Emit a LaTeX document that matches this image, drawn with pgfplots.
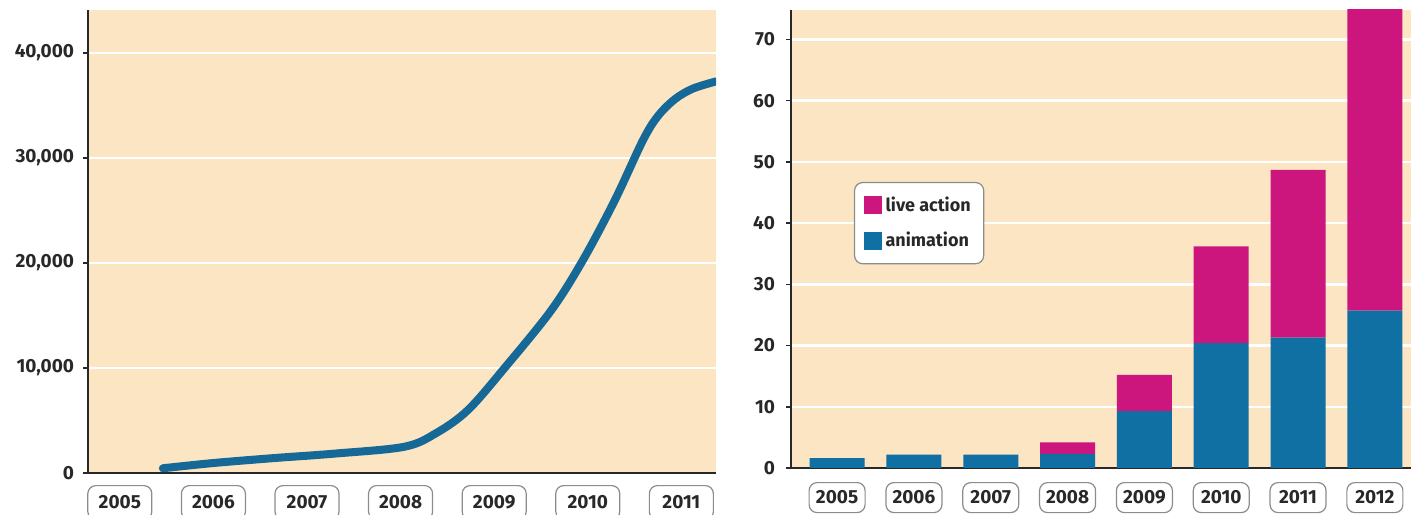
\documentclass[border=0pt]{standalone}
\usepackage{fontspec}
\setmainfont{Fira Sans}
\usepackage{pgfplots}
\pgfplotsset{compat=1.18}
\definecolor{bg}{RGB}{251,229,195}
\definecolor{lineblue}{RGB}{22,104,150}
\definecolor{barblue}{RGB}{16,112,163}
\definecolor{mag}{RGB}{204,22,126}
\definecolor{txt}{RGB}{40,40,40}
\definecolor{boxgray}{RGB}{140,140,140}
\pgfplotsset{
  common/.style={
    scale only axis,
    axis background/.style={fill=bg},
    axis x line*=bottom, axis y line*=left,
    axis line style={txt, line width=1bp, -},
    ymajorgrids, major grid style={white, line width=1.2bp},
    tick align=outside,
    major tick length=2.5bp,
    ytick style={txt, line width=0.8bp},
    xtick style={draw=none},
    tick label style={font=\bfseries\fontsize{9.5bp}{11bp}\selectfont, text=txt},
    /pgf/number format/assume math mode=true,
    xticklabel style={draw=boxgray, line width=0.6bp, fill=white, rounded corners=4bp, inner sep=0pt, anchor=north},
  },
  sq legend/.style={legend image code/.code={\fill[##1, sharp corners] (0bp,-4.5bp) rectangle (9bp,4.5bp);}},
}
\begin{document}
\begin{tikzpicture}
\useasboundingbox (0,0) rectangle (709.5bp,257.5bp);
\begin{axis}[common,
  at={(44bp,21bp)}, anchor=south west, width=314bp, height=231.5bp,
  xmin=2004.66, xmax=2011.37, ymin=0, ymax=44100,
  xtick={2005,2006,2007,2008,2009,2010,2011},
  xticklabels={2005,2006,2007,2008,2009,2010,2011},
  ytick={0,10000,20000,30000,40000},
  scaled y ticks=false,
  yticklabel style={/pgf/number format/1000 sep={,}, xshift=-1bp},
  xticklabel style={minimum width=32bp, minimum height=17bp, yshift=-3.5bp},
]
\addplot[lineblue, line width=4bp, smooth, tension=0.55, line cap=round] coordinates {
(2005.46,450) (2006.0,950) (2006.66,1430) (2007.3,1850) (2008.04,2500) (2008.38,3800)
(2008.72,6000) (2009.12,10100) (2009.61,15500) (2009.95,20300) (2010.29,26000)
(2010.59,31700) (2010.75,34000) (2010.93,35600) (2011.12,36600) (2011.37,37300)};
\end{axis}
\begin{axis}[common,
  at={(395.5bp,23.5bp)}, anchor=south west, width=310bp, height=229bp,
  ybar stacked, bar width=27.5bp,
  xmin=-0.6, xmax=7.47, ymin=0, ymax=74.8,
  xtick={0,1,2,3,4,5,6,7},
  xticklabels={2005,2006,2007,2008,2009,2010,2011,2012},
  ytick={0,10,20,30,40,50,60,70},
  yticklabel style={xshift=-2bp},
  xticklabel style={minimum width=28bp, minimum height=15bp, yshift=-4.5bp},
  reverse legend,
  legend cell align=left,
  legend style={at={(0.1016,0.6245)}, anchor=north west, draw=boxgray, line width=0.6bp,
    rounded corners=4bp, fill=white, font=\bfseries\fontsize{9bp}{10bp}\selectfont,
    text=txt, inner xsep=4.5bp, inner ysep=5bp, row sep=5bp},
]
\addplot[fill=barblue, draw=none, sq legend] coordinates {(0,1.6) (1,2.2) (2,2.2) (3,2.3) (4,9.3) (5,20.4) (6,21.3) (7,25.7)};
\addlegendentry{animation}
\addplot[fill=mag, draw=none, sq legend] coordinates {(0,0) (1,0) (2,0) (3,1.9) (4,5.9) (5,15.8) (6,27.4) (7,49.3)};
\addlegendentry{live action}
\end{axis}
\end{tikzpicture}
\end{document}
